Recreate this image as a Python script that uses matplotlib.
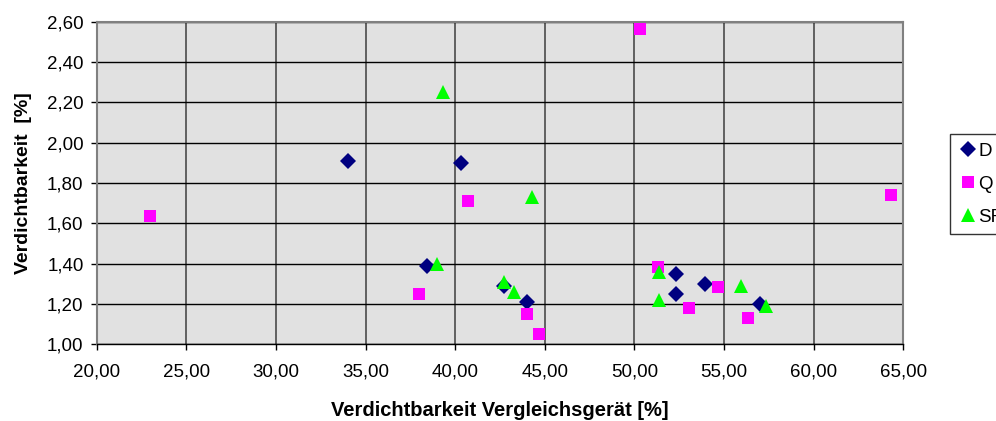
import matplotlib
matplotlib.use("Agg")
import matplotlib.pyplot as plt
from matplotlib.ticker import FuncFormatter, MultipleLocator

plt.rcParams["font.family"] = ["Liberation Sans", "DejaVu Sans"]

# Verdichtbarkeit: Vergleichsgerät (x) gegen Prüfgerät (y), je Probenart
d_x = [34.0, 40.3, 38.4, 42.7, 44.0, 52.3, 52.3, 53.95, 57.0]
d_y = [1.91, 1.90, 1.39, 1.29, 1.21, 1.35, 1.25, 1.30, 1.20]

q_x = [23.0, 40.7, 38.0, 50.3, 44.0, 44.7, 51.3, 53.05, 54.65, 56.35, 64.3]
q_y = [1.635, 1.71, 1.25, 2.565, 1.15, 1.05, 1.385, 1.18, 1.285, 1.13, 1.74]

sr_x = [39.3, 39.0, 42.7, 43.3, 44.3, 51.35, 51.35, 55.95, 57.35]
sr_y = [2.25, 1.40, 1.31, 1.26, 1.73, 1.36, 1.22, 1.29, 1.19]


def comma(v, pos):
    return f"{v:.2f}".replace(".", ",")


fig = plt.figure(figsize=(9.96, 4.21), dpi=100)
ax = fig.add_axes([0.0971, 0.1822, 0.8098, 0.7663])
ax.set_facecolor("#e1e1e1")

ax.plot(d_x, d_y, linestyle="none", marker="D", markersize=7.8,
        color="#000080", markeredgewidth=0, label="D", zorder=3)
ax.plot(q_x, q_y, linestyle="none", marker="s", markersize=8.3,
        color="#ff00ff", markeredgewidth=0, label="Q", zorder=3)
ax.plot(sr_x, sr_y, linestyle="none", marker="^", markersize=9.5,
        color="#00ff00", markeredgewidth=0, label="SR", zorder=3)

ax.set_xlim(20, 65)
ax.set_ylim(1.0, 2.6)
ax.xaxis.set_major_locator(MultipleLocator(5))
ax.yaxis.set_major_locator(MultipleLocator(0.2))
ax.xaxis.set_major_formatter(FuncFormatter(comma))
ax.yaxis.set_major_formatter(FuncFormatter(comma))

ax.grid(True, axis="y", color="#000000", linewidth=1.0, zorder=1)
ax.grid(True, axis="x", color="#4a4a4a", linewidth=1.2, zorder=1)
ax.set_axisbelow(True)

for side in ["top", "right", "left"]:
    ax.spines[side].set_color("#808080")
    ax.spines[side].set_linewidth(1.5)
ax.spines["bottom"].set_color("#000000")
ax.spines["bottom"].set_linewidth(1.0)

ax.tick_params(axis="both", direction="out", length=4.5, width=1.0,
               color="#000000", labelsize=13.5, pad=5)
ax.tick_params(axis="x", pad=9)

ax.set_xlabel("Verdichtbarkeit Vergleichsgerät [%]", fontsize=14.5,
              fontweight="bold", labelpad=15)
ax.set_ylabel("Verdichtbarkeit  [%]", fontsize=14, fontweight="bold",
              labelpad=11)

leg = fig.legend(loc="upper left", bbox_to_anchor=(0.9538, 0.681),
                 bbox_transform=fig.transFigure, frameon=True, fancybox=False,
                 fontsize=13.5, handletextpad=0.05, handlelength=1.0,
                 borderpad=0.45, labelspacing=0.85, borderaxespad=0)
leg.get_frame().set_edgecolor("#000000")
leg.get_frame().set_linewidth(1.0)

fig.savefig("out.png", dpi=100)
plt.close(fig)
